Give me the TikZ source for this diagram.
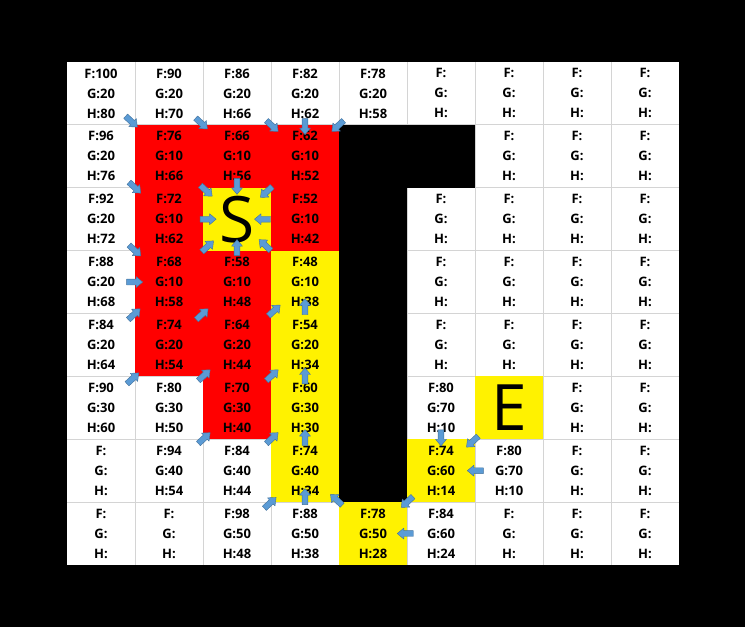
\documentclass[tikz,border=0pt]{standalone}
\usepackage{fontspec}
\setmainfont{Open Sans}
\usepackage{xcolor}
\usetikzlibrary{shapes.arrows,calc}

\definecolor{gridgray}{HTML}{D4D4D4}
\definecolor{arrfill}{HTML}{5B9BD5}
\definecolor{arrdraw}{HTML}{41719C}

\tikzset{
  gridline/.style={draw=gridgray, line width=1pt},
  info/.style={align=center, inner sep=0pt, font=\fontsize{13}{20}\selectfont\bfseries},
  bigletter/.style={inner sep=0pt, font=\fontsize{64}{64}\selectfont},
  parr/.style={single arrow, fill=arrfill, draw=arrdraw, line width=0.4pt,
    minimum height=16pt, minimum width=10.5pt, inner xsep=0pt, inner ysep=2.7pt,
    single arrow head extend=2.6pt, single arrow tip angle=80,
    sloped, allow upside down}
}

\newcommand\cellfill[3]{\fill[#1] ($(67+68*#3,-62-62.875*#2)$) rectangle ++(68,-62.875);}
\newcommand\cellinfo[4]{\node[info] (t#1) at (c#1) {F:#2\\G:#3\\H:#4};}
\newcommand\parent[3][.5]{\path (c#2) -- node[parr, pos=#1] (a#2) {} (c#3);}

\begin{document}
\begin{tikzpicture}[x=1pt, y=1pt, line join=round]
  \fill[black] (0,0) rectangle (745,-627);
  \fill[white] (67,-62) rectangle (679,-565);
  \foreach \i in {1,...,8}
    \draw[gridline] (67+68*\i,-62) -- (67+68*\i,-565);
  \foreach \j in {1,...,7}
    \draw[gridline] (67,-62-62.875*\j) -- (679,-62-62.875*\j);

  \foreach \k in {11,12,13,21,23,31,32,41,42,52}
    {\pgfmathtruncatemacro\r{\k/10}\pgfmathtruncatemacro\c{mod(\k,10)}
     \cellfill{red}{\r}{\c}}
  \foreach \k in {22,33,43,53,63,74,65,56}
    {\pgfmathtruncatemacro\r{\k/10}\pgfmathtruncatemacro\c{mod(\k,10)}
     \cellfill{yellow}{\r}{\c}}
  \foreach \k in {14,15,24,34,44,54,64}
    {\pgfmathtruncatemacro\r{\k/10}\pgfmathtruncatemacro\c{mod(\k,10)}
     \cellfill{black}{\r}{\c}}

  \foreach \r in {0,...,7}
    \foreach \c in {0,...,8}
      \coordinate (c\r\c) at (101+68*\c, -93.44-62.875*\r);

  \cellinfo{00}{100}{20}{80}
  \cellinfo{01}{90}{20}{70}
  \cellinfo{02}{86}{20}{66}
  \cellinfo{03}{82}{20}{62}
  \cellinfo{04}{78}{20}{58}
  \cellinfo{10}{96}{20}{76}
  \cellinfo{11}{76}{10}{66}
  \cellinfo{12}{66}{10}{56}
  \cellinfo{13}{62}{10}{52}
  \cellinfo{20}{92}{20}{72}
  \cellinfo{21}{72}{10}{62}
  \cellinfo{23}{52}{10}{42}
  \cellinfo{30}{88}{20}{68}
  \cellinfo{31}{68}{10}{58}
  \cellinfo{32}{58}{10}{48}
  \cellinfo{33}{48}{10}{38}
  \cellinfo{40}{84}{20}{64}
  \cellinfo{41}{74}{20}{54}
  \cellinfo{42}{64}{20}{44}
  \cellinfo{43}{54}{20}{34}
  \cellinfo{50}{90}{30}{60}
  \cellinfo{51}{80}{30}{50}
  \cellinfo{52}{70}{30}{40}
  \cellinfo{53}{60}{30}{30}
  \cellinfo{55}{80}{70}{10}
  \cellinfo{61}{94}{40}{54}
  \cellinfo{62}{84}{40}{44}
  \cellinfo{63}{74}{40}{34}
  \cellinfo{65}{74}{60}{14}
  \cellinfo{66}{80}{70}{10}
  \cellinfo{72}{98}{50}{48}
  \cellinfo{73}{88}{50}{38}
  \cellinfo{74}{78}{50}{28}
  \cellinfo{75}{84}{60}{24}
  \foreach \k in {05,06,07,08,16,17,18,25,26,27,28,35,36,37,38,
                  45,46,47,48,57,58,60,67,68,70,71,76,77,78}
    \cellinfo{\k}{}{}{};

  \node[bigletter] (start) at (c22) {S};
  \node[bigletter] (goal) at (c56) {E};

  \parent[.43]{00}{11} \parent[.46]{01}{12} \parent{02}{13} \parent{03}{13} \parent{04}{13}
  \parent[.48]{10}{21} \parent[.53]{11}{22} \parent[.45]{12}{22} \parent[.55]{13}{22}
  \parent[.55]{21}{22} \parent[.6]{23}{22}
  \parent[.48]{20}{31} \parent[.55]{31}{22} \parent[.52]{32}{22} \parent[.57]{33}{22}
  \parent[.47]{30}{31} \parent[.47]{40}{31} \parent[.47]{41}{32} \parent[.53]{42}{33} \parent[.58]{43}{33}
  \parent[.45]{50}{41} \parent{51}{42} \parent{52}{43} \parent[.48]{53}{43}
  \parent{61}{52} \parent{62}{53} \parent{63}{53}
  \parent[.47]{72}{63} \parent[.56]{73}{63} \parent[.52]{74}{63}
  \parent[.45]{55}{65} \parent[.52]{56}{65} \parent[.47]{66}{65} \parent[.48]{65}{74} \parent{75}{74}
\end{tikzpicture}
\end{document}
